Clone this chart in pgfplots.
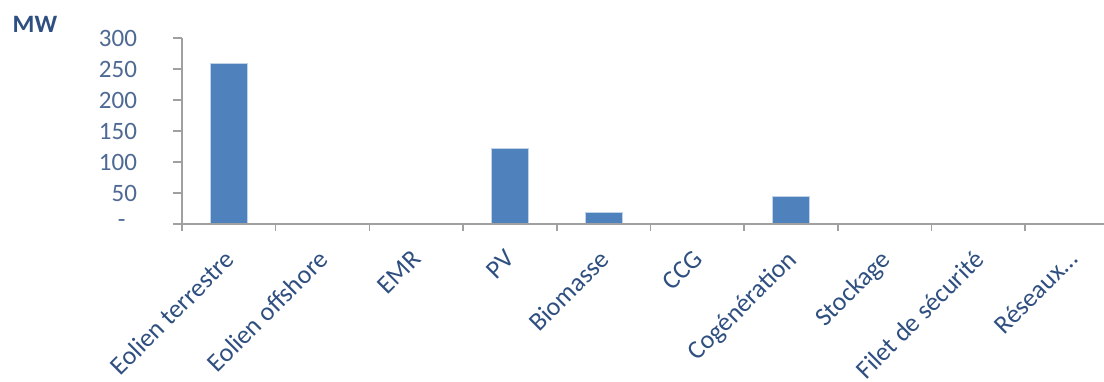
\documentclass[border=0pt]{standalone}
\usepackage{pgfplots}
\pgfplotsset{compat=1.18}
\usepackage{fontspec}
\setmainfont{Carlito}
\definecolor{barblue}{HTML}{4F81BD}
\definecolor{labblue}{HTML}{2F4F80}
\definecolor{axgray}{HTML}{A0A0A0}
\begin{document}
\begin{tikzpicture}
\begin{axis}[
  scale only axis,
  width=461pt, height=93pt,
  xmin=-0.5, xmax=9.34,
  ymin=0, ymax=300,
  axis x line=bottom, axis y line=left,
  axis line style={-, draw=axgray, line width=0.8pt},
  axis on top,
  tick align=outside,
  major tick length=4.5pt, minor tick length=3.5pt,
  tick style={draw=axgray, line width=0.8pt},
  major x tick style={draw=none},
  xtick={0,1,2,3,4,5,6,7,8,9},
  minor xtick={-0.5,0.5,1.5,2.5,3.5,4.5,5.5,6.5,7.5,8.5},
  xticklabels={Eolien terrestre,Eolien offshore,EMR,PV,Biomasse,CCG,Cogénération,Stockage,Filet de sécurité,{Réseaux\ldots}},
  xticklabel style={rotate=45, anchor=north east, font=\fontsize{13}{15}\selectfont, text=labblue, xshift=-4pt, yshift=0pt},
  ytick={0,50,100,150,200,250,300},
  yticklabels={{-\ \ \ },50,100,150,200,250,300},
  yticklabel style={font=\fontsize{12.5}{14}\selectfont, text=labblue!85!white, xshift=-14.5pt},
  ybar, bar width=18.5pt,
  clip=false,
]
\addplot[fill=barblue, draw=barblue!35!white, line width=0.4pt] coordinates {
  (0,259) (1,0) (2,0) (3,122) (4,19) (5,0) (6,45) (7,0) (8,0) (9,0)
};
\end{axis}
\node[font=\bfseries\fontsize{12.5}{14}\selectfont, text=labblue] at (-73.5pt,100pt) {MW};
\pgfresetboundingbox
\path[use as bounding box] (-91pt,-78.5pt) rectangle (461pt,112pt);
\end{tikzpicture}
\end{document}
